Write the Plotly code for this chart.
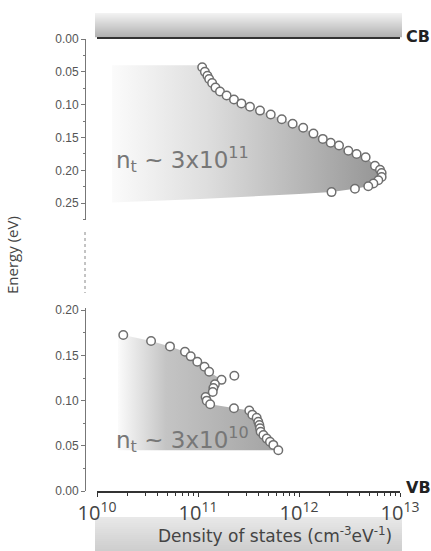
import plotly.graph_objects as go

# ---------------- data ----------------
# upper panel: trap states below the conduction band
top_dos = [1.10e11, 1.17e11, 1.24e11, 1.29e11, 1.38e11, 1.49e11, 1.65e11, 1.92e11,
           2.27e11, 2.69e11, 3.27e11, 4.11e11, 5.25e11, 6.75e11, 8.65e11, 1.10e12,
           1.39e12, 1.72e12, 2.06e12, 2.49e12, 3.08e12, 3.72e12, 4.57e12, 5.65e12,
           6.34e12, 6.58e12, 6.58e12, 6.10e12, 5.45e12, 4.85e12, 3.58e12, 2.10e12]
top_energy = [0.043, 0.050, 0.056, 0.061, 0.067, 0.074, 0.080, 0.086,
              0.092, 0.098, 0.103, 0.109, 0.115, 0.122, 0.129, 0.135,
              0.144, 0.152, 0.158, 0.162, 0.170, 0.175, 0.180, 0.193,
              0.199, 0.204, 0.210, 0.215, 0.220, 0.224, 0.228, 0.233]

# lower panel: trap states above the valence band
bot_dos = [1.82e10, 3.43e10, 5.28e10, 7.43e10, 8.47e10, 9.84e10, 1.16e11, 1.29e11,
           1.71e11, 2.29e11, 1.47e11, 1.42e11, 1.40e11, 1.19e11, 1.22e11, 1.32e11,
           2.27e11, 3.22e11, 3.45e11, 3.81e11, 3.95e11, 4.05e11, 4.11e11, 4.17e11,
           4.44e11, 4.79e11, 5.16e11, 5.57e11, 6.24e11]
bot_energy = [0.1726, 0.166, 0.160, 0.154, 0.149, 0.143, 0.1375, 0.132,
              0.123, 0.1276, 0.118, 0.114, 0.1095, 0.104, 0.100, 0.096,
              0.0915, 0.089, 0.0845, 0.081, 0.0767, 0.073, 0.0693, 0.0656,
              0.062, 0.058, 0.0545, 0.051, 0.045]

# shaded-area outlines (edges)
top_fill_head_dos = [1.41e10, 1.10e11]
top_fill_head_energy = [0.040, 0.040]
top_fill_tail_dos = [1.0e12, 1.05e11, 1.41e10]
top_fill_tail_energy = [0.236, 0.2435, 0.249]

bot_fill_head_dos = [1.61e10, 1.61e10]
bot_fill_head_energy = [0.045, 0.171]
bot_fill_skip_index = 9          # isolated point left outside the shaded area

top_label = "n<sub>t</sub> ~ 3x10<sup>11</sup>"
bot_label = "n<sub>t</sub> ~ 3x10<sup>10</sup>"
x_title = "Density of states (cm<sup>-3</sup>eV<sup>-1</sup>)"
y_title = "Energy (eV)"
x_range_log = [10, 13]

# ---------------- geometry helpers ----------------
W, H = 431, 551
def px(x): return x / W
def py(y): return 1 - y / H

X0, X1 = 97, 400          # x-axis pixel extent
YAX = 85                  # y-axis line pixel position

fig = go.Figure()

# shaded areas
top_fx = top_fill_head_dos + top_dos + top_fill_tail_dos
top_fy = top_fill_head_energy + top_energy + top_fill_tail_energy
fig.add_trace(go.Scatter(
    x=top_fx, y=top_fy, xaxis="x2", yaxis="y2", mode="lines", fill="toself",
    line=dict(width=0, color="rgba(0,0,0,0)"),
    fillgradient=dict(type="horizontal",
                      colorscale=[[0, "#fbfbfb"], [0.35, "#dedede"], [1, "#959595"]]),
    hoverinfo="skip", showlegend=False))

bfx = bot_fill_head_dos + [d for i, d in enumerate(bot_dos) if i != bot_fill_skip_index]
bfy = bot_fill_head_energy + [e for i, e in enumerate(bot_energy) if i != bot_fill_skip_index]
bfx = bfx + [bot_dos[-1]]
bfy = bfy + [bot_fill_head_energy[0]]
fig.add_trace(go.Scatter(
    x=bfx, y=bfy, xaxis="x", yaxis="y", mode="lines", fill="toself",
    line=dict(width=0, color="rgba(0,0,0,0)"),
    fillgradient=dict(type="horizontal",
                      colorscale=[[0, "#fbfbfb"], [0.3, "#c4c4c4"], [1, "#a3a3a3"]]),
    hoverinfo="skip", showlegend=False))

marker = dict(symbol="circle", size=8.5, color="white",
              line=dict(color="#6f6f6f", width=1.5))
fig.add_trace(go.Scatter(x=top_dos, y=top_energy, xaxis="x2", yaxis="y2",
                         mode="markers", marker=marker, showlegend=False))
fig.add_trace(go.Scatter(x=bot_dos, y=bot_energy, xaxis="x", yaxis="y",
                         mode="markers", marker=marker, showlegend=False))

# ---------------- gradient bands ----------------
shapes = []
def vband(y_top, y_bot, c_top, c_bot, n):
    step = (y_bot - y_top) / n
    for i in range(n):
        t = i / (n - 1)
        c = [round(c_top[k] + (c_bot[k] - c_top[k]) * t) for k in range(3)]
        shapes.append(dict(type="rect", xref="paper", yref="paper",
                           x0=px(X0 - 2), x1=px(X1 + 2),
                           y0=py(y_top + (i + 1) * step + 0.3), y1=py(y_top + i * step),
                           fillcolor=f"rgb({c[0]},{c[1]},{c[2]})",
                           line=dict(width=0), layer="below"))
vband(13, 37, (242, 242, 242), (178, 178, 178), 24)
vband(517, 551, (232, 232, 232), (206, 206, 206), 17)

# broken-axis dotted line
shapes.append(dict(type="line", xref="paper", yref="paper",
                   x0=px(YAX), x1=px(YAX), y0=py(232), y1=py(293),
                   line=dict(color="#888", width=1, dash="dot")))

annotations = [
    dict(text="<b>CB</b>", x=px(404), y=py(36), xref="paper", yref="paper",
         xanchor="left", yanchor="middle", showarrow=False,
         font=dict(size=16, color="#222", family="DejaVu Sans")),
    dict(text="<b>VB</b>", x=px(404), y=py(487), xref="paper", yref="paper",
         xanchor="left", yanchor="middle", showarrow=False,
         font=dict(size=16, color="#222", family="DejaVu Sans")),
    dict(text=top_label, x=px(114), y=py(160), xref="paper", yref="paper",
         xanchor="left", yanchor="middle", showarrow=False,
         font=dict(size=23, color="#777", family="DejaVu Sans")),
    dict(text=bot_label, x=px(114), y=py(440), xref="paper", yref="paper",
         xanchor="left", yanchor="middle", showarrow=False,
         font=dict(size=23, color="#777", family="DejaVu Sans")),
    dict(text=x_title, x=px(275), y=py(535), xref="paper", yref="paper",
         xanchor="center", yanchor="middle", showarrow=False,
         font=dict(size=17, color="#444", family="DejaVu Sans")),
    dict(text=y_title, x=px(12), y=py(255), xref="paper", yref="paper",
         xanchor="center", yanchor="middle", showarrow=False, textangle=-90,
         font=dict(size=15, color="#444")),
]

yax_common = dict(anchor="free", position=px(YAX), showline=True, linecolor="#777",
                  linewidth=1, ticks="outside", ticklen=4, tickcolor="#777",
                  dtick=0.05, tickformat=".2f", showgrid=False, zeroline=False,
                  tickfont=dict(size=12, color="#555", family="Liberation Sans"),
                  minor=dict(dtick=0.025, ticks="outside", ticklen=2, tickcolor="#777"),
                  automargin=False)

fig.update_layout(
    width=W, height=H, template="none",
    margin=dict(l=0, r=0, t=0, b=0),
    paper_bgcolor="white", plot_bgcolor="rgba(0,0,0,0)",
    font=dict(family="Open Sans", color="#444"),
    xaxis=dict(domain=[px(X0), px(X1)], type="log", range=x_range_log, anchor="y",
               showline=True, linecolor="#333", linewidth=2, ticks="outside",
               ticklen=4, tickcolor="#333", dtick=1, exponentformat="power",
               showexponent="all", tickfont=dict(size=16, color="#444"),
               minor=dict(ticks="outside", ticklen=3, tickcolor="#333", dtick="D1"),
               showgrid=False, zeroline=False, automargin=False),
    xaxis2=dict(domain=[px(X0), px(X1)], type="log", range=x_range_log, anchor="y2",
                side="top", showline=True, linecolor="#333", linewidth=2,
                showticklabels=False, ticks="", showgrid=False, zeroline=False,
                automargin=False),
    yaxis=dict(domain=[py(491), py(308)], range=[0, 0.2025], **yax_common),
    yaxis2=dict(domain=[py(219.7), py(39)], range=[0.275, 0], **yax_common),
    shapes=shapes, annotations=annotations, showlegend=False,
)

fig.write_html("out.html", config={"displayModeBar": False},
               post_script="document.body.style.margin='0';"
                           "document.body.style.overflow='hidden';")
